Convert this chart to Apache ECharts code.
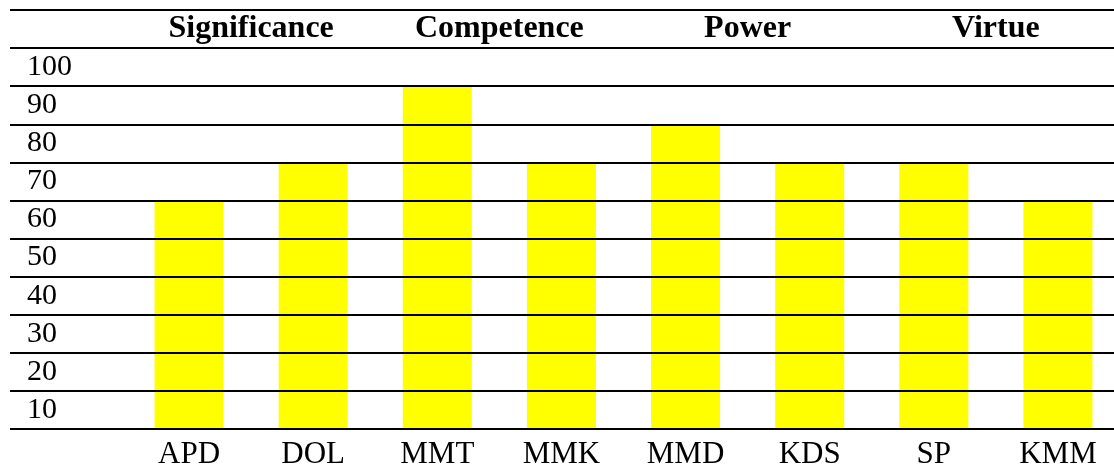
<!DOCTYPE html>
<html>
<head>
<meta charset="utf-8">
<title>Scores by dimension</title>
<script src="https://cdn.jsdelivr.net/npm/echarts@6/dist/echarts.min.js"></script>
<style>
  html, body { margin: 0; padding: 0; background: #fff; }
  #chart { width: 1114px; height: 464px; }
</style>
</head>
<body>
<div id="chart"></div>
<script>
// Category codes along the bottom, dimension headers along the top
var categories = ['APD', 'DOL', 'MMT', 'MMK', 'MMD', 'KDS', 'SP', 'KMM'];
var dimensions = ['Significance', 'Competence', 'Power', 'Virtue'];
var scores = [60, 70, 90, 70, 80, 70, 70, 60];
// Row labels of the table, bottom to top; the top row holds the headers
var rowLabels = ['10', '20', '30', '40', '50', '60', '70', '80', '90', '100', ''];

var serif = '"Liberation Serif", "Times New Roman", serif';
var chart = echarts.init(document.getElementById('chart'), null, { renderer: 'canvas' });

chart.setOption({
  animation: false,
  backgroundColor: '#ffffff',
  grid: [
    // full-width table rules and row labels
    { left: 10, right: 0, top: 10, bottom: 35, outerBoundsMode: 'none', containLabel: false },
    // bar columns
    { left: 127, width: 993, top: 10, bottom: 35, outerBoundsMode: 'none', containLabel: false }
  ],
  xAxis: [
    { gridIndex: 0, type: 'value', show: false, min: 0, max: 1 },
    {
      gridIndex: 1, type: 'category', data: categories, position: 'bottom',
      axisLine: { show: false }, axisTick: { show: false }, splitLine: { show: false },
      axisLabel: { color: '#000', fontFamily: serif, fontSize: 31, margin: 10, interval: 0 }
    },
    {
      gridIndex: 1, type: 'category', data: dimensions, position: 'top',
      axisLine: { show: false }, axisTick: { show: false }, splitLine: { show: false },
      axisLabel: {
        inside: true, color: '#000', fontFamily: serif, fontSize: 32, fontWeight: 'bold',
        verticalAlign: 'middle', margin: 19, interval: 0
      }
    }
  ],
  yAxis: [
    {
      gridIndex: 0, type: 'category', data: rowLabels, boundaryGap: true, z: 10,
      axisLine: { show: false }, axisTick: { show: false },
      splitLine: { show: true, interval: 0, lineStyle: { color: '#000', width: 2 } },
      axisLabel: {
        inside: true, align: 'left', margin: 17, interval: 0,
        color: '#000', fontFamily: serif, fontSize: 30
      }
    },
    { gridIndex: 1, type: 'value', min: 0, max: 110, interval: 10, show: false }
  ],
  series: [{
    type: 'bar',
    xAxisIndex: 1,
    yAxisIndex: 1,
    data: scores,
    barWidth: 69,
    itemStyle: { color: '#ffff00' }
  }]
});
</script>
</body>
</html>
